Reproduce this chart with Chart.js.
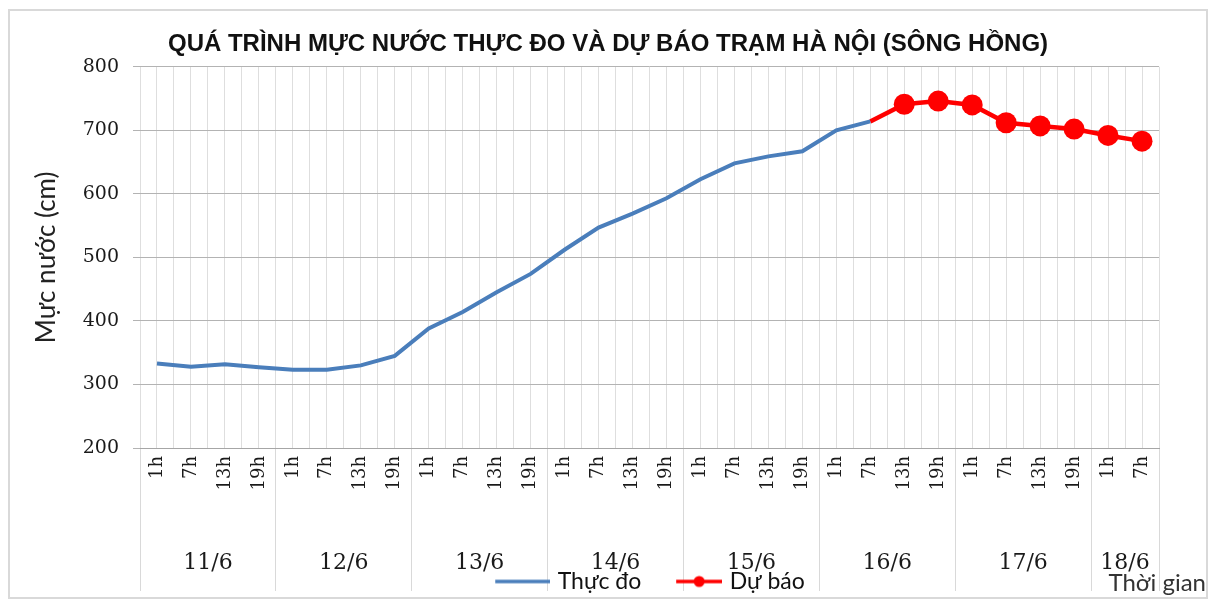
<!DOCTYPE html>
<html>
<head>
<meta charset="utf-8">
<title>Mực nước trạm Hà Nội</title>
<script src="https://cdn.jsdelivr.net/npm/chart.js@4.4.1/dist/chart.umd.min.js"></script>
<style>
    html, body { margin: 0; padding: 0; background: #fff; }
    #frame { position: absolute; left: 8px; top: 9px; width: 1200px; height: 590px; border: 2px solid #d9d9d9; box-sizing: border-box; }
    #wrap { position: absolute; left: 0; top: 0; width: 1196px; height: 592px; }
</style>
</head>
<body>
<div id="frame"><div id="wrap"><canvas id="levelChart"></canvas></div></div>
<script>
// 1. DATA
const hourLabels = ['1h', '7h', '13h', '19h', '1h', '7h', '13h', '19h', '1h', '7h', '13h', '19h',
                    '1h', '7h', '13h', '19h', '1h', '7h', '13h', '19h', '1h', '7h', '13h', '19h',
                    '1h', '7h', '13h', '19h', '1h', '7h'];
const dayLabels = ['11/6', '12/6', '13/6', '14/6', '15/6', '16/6', '17/6', '18/6'];
const daySizes = [4, 4, 4, 4, 4, 4, 4, 2];
const observed = [333, 328, 332, 327, 323, 323, 330, 345, 388, 414, 445, 474,
                  512, 547, 569, 593, 623, 648, 659, 667, 700, 714];
const forecast = [null, null, null, null, null, null, null, null, null, null, null, null,
                  null, null, null, null, null, null, null, null, null, 714,
                  741, 746, 740, 712, 707, 702, 692, 683];

const BLUE = '#4a7ebb';
const RED = '#ff0000';
const SERIF = "'DejaVu Serif', serif";
const SANS = "Lato, 'Open Sans', sans-serif";

// day label positions = middle of each group of hours
const dayCenters = [];
let start = 0;
daySizes.forEach(n => { dayCenters.push(start + (n - 1) / 2); start += n; });

// 2. LEGEND ICONS (line, line + dot)
function makeIcon(color, withDot) {
    const c = document.createElement('canvas');
    c.width = 60; c.height = 14;
    const g = c.getContext('2d');
    g.strokeStyle = color;
    g.lineWidth = 3.5;
    g.beginPath();
    g.moveTo(withDot ? 14 : 5, 7);
    g.lineTo(60, 7);
    g.stroke();
    if (withDot) {
        g.fillStyle = color;
        g.beginPath();
        g.arc(37, 7, 5.5, 0, Math.PI * 2);
        g.fill();
    }
    return c;
}
const legendIcons = [makeIcon(BLUE, false), makeIcon(RED, true)];

// 3. CHART
new Chart(document.getElementById('levelChart'), {
    type: 'line',
    data: {
        labels: hourLabels,
        datasets: [{
            label: 'Thực đo',
            data: observed,
            xAxisID: 'x',
            yAxisID: 'y',
            borderColor: BLUE,
            backgroundColor: BLUE,
            borderWidth: 4,
            pointRadius: 0,
            tension: 0
        }, {
            label: 'Dự báo',
            data: forecast,
            xAxisID: 'x',
            yAxisID: 'y',
            borderColor: RED,
            backgroundColor: RED,
            borderWidth: 4.5,
            pointRadius: ctx => ctx.dataIndex > 21 ? 10.5 : 0,
            pointBorderWidth: 0,
            pointBackgroundColor: RED,
            tension: 0
        }]
    },
    options: {
        responsive: true,
        maintainAspectRatio: false,
        animation: false,
        layout: { padding: 0 },
        scales: {
            xc: {
                type: 'linear',
                position: 'bottom',
                weight: -1,
                min: -0.5,
                max: 29.5,
                afterBuildTicks: axis => { axis.ticks = hourLabels.map((_, i) => ({ value: i })); },
                ticks: { display: false },
                grid: { color: '#dedede', drawTicks: false },
                border: { display: false },
                afterFit: axis => { axis.height = 0; }
            },
            x: {
                type: 'category',
                position: 'bottom',
                weight: 0,
                offset: true,
                grid: {
                    offset: true,
                    color: '#dedede',
                    tickLength: 143,
                    tickColor: ctx => (ctx.type !== 'tick' || ctx.index % 4 === 0) ? '#d9d9d9' : 'rgba(0,0,0,0)'
                },
                border: { color: '#a6a6a6', width: 1 },
                ticks: {
                    autoSkip: false,
                    minRotation: 90,
                    maxRotation: 90,
                    padding: -135,
                    color: '#1a1a1a',
                    font: { family: SERIF, size: 18 }
                },
                afterFit: axis => { axis.height = 45; }
            },
            xd: {
                type: 'linear',
                position: 'bottom',
                weight: 1,
                min: -0.5,
                max: 29.5,
                afterBuildTicks: axis => { axis.ticks = dayCenters.map(v => ({ value: v })); },
                ticks: {
                    autoSkip: false,
                    maxRotation: 0,
                    mirror: true,
                    padding: -83,
                    color: '#1a1a1a',
                    font: { family: SERIF, size: 22 },
                    callback: (v, i) => dayLabels[i]
                },
                grid: { display: false },
                border: { display: false },
                afterFit: axis => { axis.height = 52; }
            },
            y: {
                min: 200,
                max: 800,
                ticks: { stepSize: 100, padding: 14, color: '#1a1a1a', font: { family: SERIF, size: 19 } },
                grid: { color: '#b3b3b3', tickLength: 7 },
                border: { display: false },
                title: {
                    display: true,
                    text: 'Mực nước (cm)',
                    color: '#222',
                    font: { family: SANS, size: 26 },
                    padding: { top: 21, bottom: 0 }
                },
                afterFit: axis => { axis.width = 130; }
            },
            yr: {
                type: 'linear',
                position: 'right',
                ticks: { display: false },
                grid: { display: false },
                border: { display: false },
                afterFit: axis => { axis.width = 47; }
            }
        },
        plugins: {
            title: {
                display: true,
                text: 'QUÁ TRÌNH MỰC NƯỚC THỰC ĐO VÀ DỰ BÁO TRẠM HÀ NỘI (SÔNG HỒNG)',
                color: '#111',
                font: { family: "'Liberation Sans', Arial, sans-serif", size: 24, weight: 'bold' },
                padding: { top: 19, bottom: 8 }
            },
            subtitle: {
                display: true,
                position: 'bottom',
                align: 'end',
                text: 'Thời gian',
                color: '#333',
                font: { family: SANS, size: 24 },
                padding: { top: -34, bottom: 0 }
            },
            legend: {
                position: 'bottom',
                fullSize: false,
                labels: {
                    usePointStyle: true,
                    pointStyleWidth: 52,
                    padding: 25,
                    color: '#111',
                    font: { family: SANS, size: 23 },
                    generateLabels: chart => {
                        const items = Chart.defaults.plugins.legend.labels.generateLabels(chart);
                        items.forEach((item, i) => { item.pointStyle = legendIcons[i]; });
                        return items;
                    }
                }
            },
            tooltip: { enabled: false }
        }
    }
});
</script>
</body>
</html>
